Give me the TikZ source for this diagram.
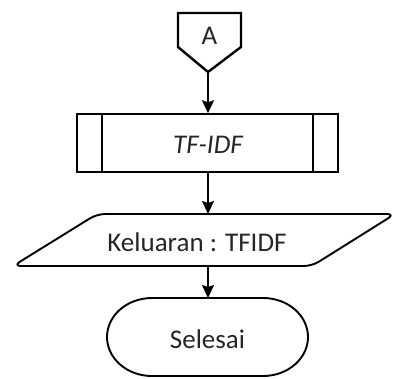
\documentclass[tikz,border=0pt]{standalone}
\usepackage{fontspec}
\setmainfont{Carlito}
\usetikzlibrary{arrows.meta}
\begin{document}
\begin{tikzpicture}[x=1pt,y=-1pt,
  label text/.style={text=black!85, font=\fontsize{27}{31}\selectfont, inner sep=0pt},
  outline/.style={draw=black, line width=1.9pt, line join=round},
  flow/.style={draw=black, line width=1.3pt, -{Stealth[length=13pt,width=12pt,inset=2pt]}}]
  \useasboundingbox (0,0) rectangle (396,378);

  % off-page connector "A"
  \draw[outline, line width=2.4pt, line join=miter] (178,13) -- (241,13) -- (241,47) -- (208,72) -- (178,47) -- cycle;
  \node[label text] (conn) at (209.5,36) {A};
  \coordinate (conntip) at (208,72);

  % predefined process box
  \node[draw=black, line width=1.6pt, minimum width=261pt, minimum height=58pt, inner sep=0pt] (proc) at (207.5,143) {};
  \draw[line width=1.6pt] (proc.north west) ++(26,0) -- ++(0,58);
  \draw[line width=1.6pt] (proc.north east) ++(-26,0) -- ++(0,58);
  \node[label text, font=\fontsize{27}{31}\selectfont\itshape] (proctext) at (208,145) {TF-IDF};

  % output parallelogram
  \draw[outline, rounded corners=8pt] (13,266) -- (312,266) -- (395,214) -- (97,214) -- cycle;
  \node[label text] (output) at (197,242) {Keluaran : TFIDF};
  \coordinate (outtop) at (208,214);
  \coordinate (outbot) at (208,266);

  % terminator
  \draw[outline] (152,298) -- (263,298) arc[start angle=-90, end angle=90, x radius=45, y radius=39]
    -- (152,376) arc[start angle=90, end angle=270, x radius=45, y radius=39];
  \node[label text] (stop) at (207.5,339) {Selesai};
  \coordinate (stoptop) at (208,298);

  % connectors
  \draw[flow] (conntip) -- (proc.north -| conntip);
  \draw[flow] (proc.south -| conntip) -- (outtop);
  \draw[flow] (outbot) -- (stoptop);
\end{tikzpicture}
\end{document}
